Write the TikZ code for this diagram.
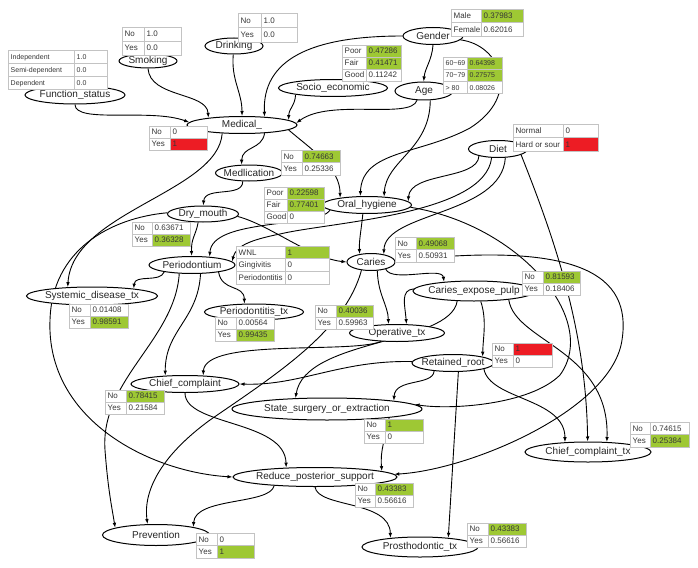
\documentclass[tikz,border=0pt]{standalone}
\usepackage{fontspec}
\setmainfont{Liberation Sans}
\usetikzlibrary{shapes.geometric, arrows.meta}
\definecolor{bngreen}{RGB}{158,200,52}
\definecolor{bnred}{RGB}{237,28,36}
\definecolor{cellgray}{RGB}{195,195,195}
\definecolor{celltxt}{RGB}{55,55,55}
\pgfdeclarelayer{links}
\pgfsetlayers{links,main}
\newcommand{\lbl}[1]{\makebox[0pt]{#1}}
% probability table: prefix, x, y, split x, right x, row height, font size, rows
\newcommand{\cpt}[8]{%
  \foreach \lab/\val/\clr [count=\rw] in {#8}{%
    \pgfmathsetmacro{\ya}{#3+(\rw-1)*#6}%
    \pgfmathsetmacro{\yb}{#3+\rw*#6}%
    \pgfmathsetmacro{\yt}{#3+(\rw-0.5)*#6+0.36*#7}%
    \filldraw[cell] (#2,\ya) rectangle (#4,\yb);
    \filldraw[cell, fill=\clr] (#4,\ya) rectangle (#5,\yb);
    \node[celltext, font=\fontsize{#7}{#7}\selectfont] (#1-l\rw) at (#2+2.5,\yt) {\lab};
    \node[celltext, font=\fontsize{#7}{#7}\selectfont] (#1-v\rw) at (#4+2.5,\yt) {\val};
  }}

\begin{document}
\begin{tikzpicture}[x=1pt,y=-1pt,
  bn/.style 2 args={ellipse, draw, line width=1pt, fill=white, inner sep=0pt,
    minimum width=#1pt, minimum height=#2pt, text=black!85, font=\fontsize{10}{12}\selectfont},
  link/.style={-{Latex[length=5pt,width=3.6pt]}, line width=0.9pt},
  cell/.style={draw=cellgray, line width=0.9pt, fill=white},
  celltext/.style={anchor=base west, inner sep=0pt, text=celltxt}]
\useasboundingbox (0,0) rectangle (698,567);

% Variables
\node[bn={100}{18}] (fs) at (75,95) {\lbl{Function\_status}};
\node[bn={58}{14}] (smk) at (148,61) {\lbl{Smoking}};
\node[bn={58}{16}] (drk) at (234,46) {\lbl{Drinking}};
\node[bn={60}{17}] (gen) at (433,36) {\lbl{Gender}};
\node[bn={109}{17}] (soc) at (333,88) {\lbl{Socio\_economic}};
\node[bn={58}{18}] (age) at (424,91) {\lbl{Age}};
\node[bn={110}{17}] (med) at (242,125) {\lbl{Medical\_}};
\node[bn={67}{16}] (medi) at (249,173) {\lbl{Medlication}};
\node[bn={89}{17}] (oh) at (367,205) {\lbl{Oral\_hygiene}};
\node[bn={59}{17}] (diet) at (498,149) {\lbl{Diet}};
\node[bn={71}{16}] (dry) at (203,214) {\lbl{Dry\_mouth}};
\node[bn={86}{17}] (per) at (192,265) {\lbl{Periodontium}};
\node[bn={48}{17}] (car) at (371,262) {\lbl{Caries}};
\node[bn={131}{18}] (sdt) at (92,296) {\lbl{Systemic\_disease\_tx}};
\node[bn={99}{16}] (ptx) at (254,312) {\lbl{Periodontitis\_tx}};
\node[bn={122}{20}] (cep) at (474,291) {\lbl{Caries\_expose\_pulp}};
\node[bn={95}{17}] (otx) at (397,333) {\lbl{Operative\_tx}};
\node[bn={82}{17}] (rr) at (453,363) {\lbl{Retained\_root}};
\node[bn={108}{17}] (cc) at (185,384) {\lbl{Chief\_complaint}};
\node[bn={190}{22}] (sse) at (327,409) {\lbl{State\_surgery\_or\_extraction}};
\node[bn={126}{20}] (cct) at (588,452) {\lbl{Chief\_complaint\_tx}};
\node[bn={164}{19}] (rps) at (315,477) {\lbl{Reduce\_posterior\_support}};
\node[bn={107}{21}] (prev) at (156,535) {\lbl{Prevention}};
\node[bn={116}{20}] (pro) at (420,547) {\lbl{Prosthodontic\_tx}};

\begin{pgfonlayer}{links}
% into Medical_
\draw[link] (fs.south) .. controls (75,124) and (150,108) .. (med.177);
\draw[link] (smk.south) .. controls (150,98) and (207,92) .. (med.168);
\draw[link] (drk.-95) .. controls (231,80) and (242,92) .. (med.90);
\draw[link] (gen.180) .. controls (310,36) and (262,60) .. (med.20);
\draw[link] (soc.-170) .. controls (295,106) and (289,108) .. (med.6);
\draw[link] (age.-127) .. controls (411,120) and (330,98) .. (med.2.5);
\draw[link] (gen.-90) .. controls (432,60) and (425,68) .. (age.92);

% into Oral_hygiene
\draw[link] (gen.-8) .. controls (500,45) and (522,95) .. (470,128) .. controls (420,155) and (362,150) .. (oh.127);
\draw[link] (age.-56) .. controls (430,150) and (386,160) .. (oh.26);
\draw[link] (med.-6) .. controls (312,150) and (340,168) .. (oh.165);
\draw[link] (diet.-160) .. controls (478,180) and (410,172) .. (oh.5);

% Medical_ downwards
\draw[link] (med.-20) .. controls (262,150) and (242,146) .. (medi.132);
\draw[link] (medi.-127) .. controls (243,198) and (205,186) .. (dry.88);
\draw[link] (med.-157) .. controls (218,192) and (72,212) .. (sdt.160);
\draw[link] (dry.178) .. controls (110,218) and (52,250) .. (50,320) .. controls (46,420) and (150,472) .. (rps.180);

% into Periodontium and Caries
\draw[link] (dry.-120) .. controls (196,235) and (191,238) .. (per.92);
\draw[link] (oh.-172) .. controls (318,228) and (212,218) .. (per.25);
\draw[link] (diet.-126) .. controls (485,215) and (330,222) .. (280,234) .. controls (250,240) and (236,246) .. (per.5);
\draw[link] (oh.-115) .. controls (361,232) and (359,240) .. (car.145);
\draw[link] (diet.-50) .. controls (502,215) and (385,212) .. (car.31);
\draw[link] (dry.-4) .. controls (270,225) and (310,258) .. (car.180);

% from Periodontium
\draw[link] (per.-166) .. controls (160,283) and (135,274) .. (sdt.10);
\draw[link] (per.-15) .. controls (222,292) and (244,284) .. (ptx.139);
\draw[link] (per.-46) .. controls (198,320) and (165,330) .. (cc.157);
\draw[link] (per.-146) .. controls (175,340) and (100,380) .. (105,450) .. controls (108,490) and (112,508) .. (prev.170);

% from Caries
\draw[link] (car.-26) .. controls (392,283) and (442,266) .. (cep.163);
\draw[link] (car.-54) .. controls (378,295) and (388,305) .. (otx.134);
\draw[link] (car.-139) .. controls (345,330) and (280,372) .. (210,420) .. controls (162,455) and (143,490) .. (prev.128);
\draw[link] (car.2) .. controls (580,240) and (632,275) .. (622,340) .. controls (612,410) and (470,470) .. (rps.2);

% from Caries_expose_pulp
\draw[link] (cep.178) .. controls (400,290) and (405,305) .. (otx.43);
\draw[link] (cep.-149) .. controls (450,345) and (305,338) .. (sse.161);
\draw[link] (cep.-57) .. controls (487,320) and (483,338) .. (rr.12);
\draw[link] (cep.-14) .. controls (515,342) and (610,350) .. (cct.28);

% from Retained_root
\draw[link] (rr.-157) .. controls (433,386) and (395,378) .. (sse.7);
\draw[link] (rr.178) .. controls (340,360) and (300,386) .. (cc.0);
\draw[link] (rr.-59) -- (pro.18);
\draw[link] (rr.-11) .. controls (490,400) and (565,398) .. (cct.157);

% remaining
\draw[link] (otx.-152) .. controls (350,354) and (205,338) .. (cc.25);
\draw[link] (oh.-3) .. controls (520,225) and (600,320) .. (560,375) .. controls (530,405) and (450,410) .. (sse.3);
\draw[link] (diet.-14) .. controls (555,240) and (586,330) .. (cct.92);
\draw[link] (cc.-90) .. controls (185,426) and (285,420) .. (rps.162);
\draw[link] (sse.-8.5) .. controls (385,440) and (380,450) .. (rps.5);
\draw[link] (rps.-168) .. controls (270,505) and (195,497) .. (prev.12);
\draw[link] (rps.-90) .. controls (318,508) and (390,500) .. (pro.163);
\end{pgfonlayer}

% Probability tables
\cpt{tfs}{8}{50}{74}{107}{13.3}{7}{Independent/1.0/white, Semi-dependent/0.0/white, Dependent/0.0/white}
\cpt{tsmk}{122}{27}{144}{181}{14}{8}{No/1.0/white, Yes/0.0/white}
\cpt{tdrk}{238}{13}{261}{297}{14.5}{8}{No/1.0/white, Yes/0.0/white}
\cpt{tgen}{451}{9}{481}{523}{13.7}{8}{Male/0.37983/bngreen, Female/0.62016/white}
\cpt{tsoc}{342}{45}{366}{401}{12}{8}{Poor/0.47286/bngreen, Fair/0.41471/bngreen, Good/0.11242/white}
\cpt{tage}{443}{57}{467}{502}{12.2}{7}{60\textasciitilde69/0.64398/bngreen, 70\textasciitilde79/0.27575/bngreen, > 80/0.08026/white}
\cpt{tmed}{149}{126}{170}{207}{12}{8}{No/0/white, Yes/1/bnred}
\cpt{tmedi}{281}{150}{302}{340}{12.5}{8}{No/0.74663/bngreen, Yes/0.25336/white}
\cpt{toh}{264}{187}{287}{324}{12}{8}{Poor/0.22598/bngreen, Fair/0.77401/bngreen, Good/0/white}
\cpt{tdiet}{513}{124}{563}{598}{13.5}{8}{Normal/0/white, Hard or sour/1/bnred}
\cpt{tdry}{132}{222}{152}{190}{12}{8}{No/0.63671/white, Yes/0.36328/bngreen}
\cpt{tper}{236}{246}{285}{329}{12.7}{8}{WNL/1/bngreen, Gingivitis/0/white, Periodontitis/0/white}
\cpt{tcar}{395}{237}{416}{454}{12.5}{8}{No/0.49068/bngreen, Yes/0.50931/white}
\cpt{tsdt}{69}{304}{90}{128}{12}{8}{No/0.01408/white, Yes/0.98591/bngreen}
\cpt{tptx}{215}{317}{236}{274}{12}{8}{No/0.00564/white, Yes/0.99435/bngreen}
\cpt{tcep}{522}{271}{543}{580}{12}{8}{No/0.81593/bngreen, Yes/0.18406/white}
\cpt{totx}{315}{305}{336}{373}{12}{8}{No/0.40036/bngreen, Yes/0.59963/white}
\cpt{trr}{492}{343}{513}{552}{12}{8}{No/1/bnred, Yes/0/white}
\cpt{tcc}{105}{390}{126}{164}{12}{8}{No/0.78415/bngreen, Yes/0.21584/white}
\cpt{tsse}{364}{419}{385}{423}{12}{8}{No/1/bngreen, Yes/0/white}
\cpt{tcct}{630}{422}{650}{689}{12.5}{8}{No/0.74615/white, Yes/0.25384/bngreen}
\cpt{trps}{355}{483}{375}{413}{12}{8}{No/0.43383/bngreen, Yes/0.56616/white}
\cpt{tprev}{196}{533}{217}{254}{12.5}{8}{No/0/white, Yes/1/bngreen}
\cpt{tpro}{467}{523}{488}{526}{12}{8}{No/0.43383/bngreen, Yes/0.56616/white}
\end{tikzpicture}
\end{document}
